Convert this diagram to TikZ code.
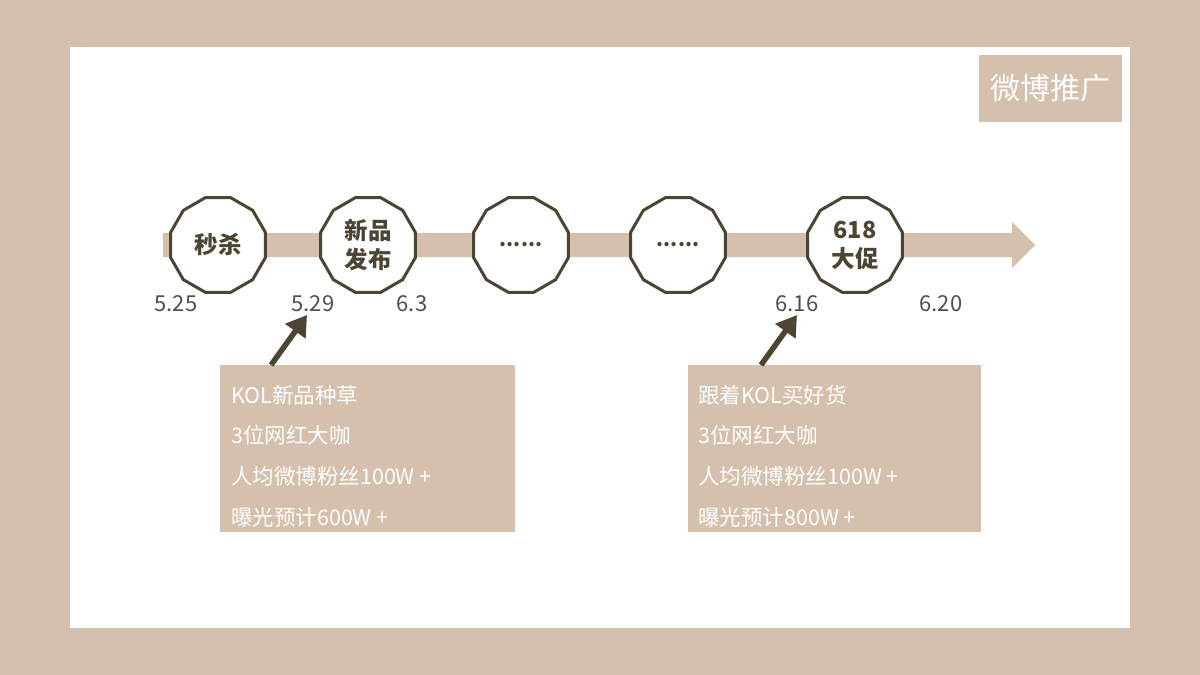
\documentclass[tikz,border=0pt]{standalone}
\usepackage{fontspec}
\setmainfont{Noto Sans CJK SC}
\usetikzlibrary{shapes.geometric,arrows.meta}
\definecolor{beige}{HTML}{D5BFAD}
\definecolor{darkolive}{HTML}{4D4533}
\definecolor{datecol}{HTML}{4F4F4F}
\newcommand{\wplus}{W\kern5pt+}
\tikzset{
  x=1pt,y=-1pt,
  stage/.style={regular polygon,regular polygon sides=12,minimum size=98pt,draw=darkolive,line width=3pt,fill=white,inner sep=0pt,align=center,text=darkolive,font=\fontsize{23.5}{29}\selectfont\bfseries},
  datelbl/.style={text=datecol,font=\fontsize{22}{24}\selectfont,inner sep=0pt},
  infobox/.style={fill=beige,draw=none,anchor=north west,inner sep=0pt},
  boxtext/.style={text=white,anchor=west,align=left,inner sep=0pt,font=\fontsize{21.5}{40.7}\selectfont},
  pointer/.style={draw=darkolive,line width=5.5pt,-{Triangle[length=20pt,width=24pt]}},
}
\begin{document}
\begin{tikzpicture}
\useasboundingbox (0,0) rectangle (1200,675);
\fill[beige] (0,0) rectangle (1200,675);
\fill[white] (70,47) rectangle (1130,628);
% title
\node[fill=beige,minimum width=143pt,minimum height=67pt,anchor=north west,inner sep=0pt,text=white,font=\fontsize{30}{32}\selectfont] (title) at (979,55) {微博推广};
% timeline band
\fill[beige] (163,233) -- (1012,233) -- (1012,222) -- (1035,245) -- (1012,268) -- (1012,257) -- (163,257) -- cycle;
% stages
\node[stage] (s1) at (218,245) {秒杀};
\node[stage] (s2) at (368,245) {新品\\发布};
\node[stage] (s3) at (521,245) {\fontsize{20}{20}\selectfont ......};
\node[stage] (s4) at (678,245) {\fontsize{20}{20}\selectfont ......};
\node[stage] (s5) at (855,245) {618\\大促};
% dates
\node[datelbl] (d1) at (176,304) {5.25};
\node[datelbl] (d2) at (313,304) {5.29};
\node[datelbl] (d3) at (412,304) {6.3};
\node[datelbl] (d4) at (797,304) {6.16};
\node[datelbl] (d5) at (941,304) {6.20};
% boxes
\node[infobox,minimum width=295pt,minimum height=167pt] (b1) at (220,365) {};
\node[boxtext] (t1) at (231,456) {KOL新品种草\\3位网红大咖\\人均微博粉丝100\wplus\\曝光预计600\wplus};
\node[infobox,minimum width=293pt,minimum height=167pt] (b2) at (688,365) {};
\node[boxtext] (t2) at (698,456) {跟着KOL买好货\\3位网红大咖\\人均微博粉丝100\wplus\\曝光预计800\wplus};
% pointers
\coordinate (p1s) at (271,365);
\coordinate (p1e) at (307,315);
\coordinate (p2s) at (761,365);
\coordinate (p2e) at (797,315);
\draw[pointer] (p1s) -- (p1e);
\draw[pointer] (p2s) -- (p2e);
\end{tikzpicture}
\end{document}
